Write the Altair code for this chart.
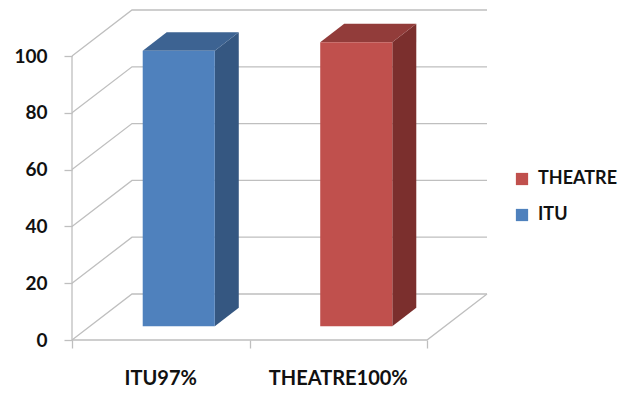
import altair as alt
import pandas as pd

# ---- data ----
categories = ["ITU", "THEATRE"]
values = [97, 100]
x_labels = ["ITU97%", "THEATRE100%"]
y_ticks = [0, 20, 40, 60, 80, 100]
legend_order = ["THEATRE", "ITU"]
front_colors = ["#4F81BD", "#C0504D"]
top_colors = ["#3D6392", "#923C3A"]
side_colors = ["#355781", "#7B2F2D"]

# ---- 3D geometry parameters (in data units) ----
DX = 0.338   # depth offset along x (category units)
DY = 16.2    # depth offset along y (value units)
D0, D1 = 0.3, 0.7   # bar depth range (fraction of floor depth)
BW = 0.406   # bar width (category units)
N = len(categories)
XMAX = N + DX
YMAX = max(y_ticks) + DY
FONT = "Lato"
FW = "bold"
GRID = "#BFBFBF"

def X(field, **kw):
    return alt.X(field, type="quantitative",
                 scale=alt.Scale(domain=[0, XMAX], nice=False, zero=False),
                 axis=alt.Axis(values=list(range(N + 1)), labels=False, domain=False,
                               grid=False, ticks=True, tickSize=8, tickColor=GRID,
                               tickWidth=1.3, title=None), **kw)

def Y(field, **kw):
    return alt.Y(field, type="quantitative",
                 scale=alt.Scale(domain=[0, YMAX], nice=False, zero=False),
                 axis=alt.Axis(values=y_ticks, domain=False, grid=False, tickSize=8,
                               tickColor=GRID, tickWidth=1.3, labelPadding=17,
                               labelFont=FONT, labelFontSize=19, labelFontWeight=FW,
                               labelColor="#111111", title=None), **kw)

# ---- wall / floor lines ----
lines = []
for t in y_ticks:
    pts = [(0, t), (DX, t + DY), (N + DX, t + DY)]
    for k, (x, y) in enumerate(pts):
        lines.append({"id": f"g{t}", "o": k, "x": x, "y": y})
for k, (x, y) in enumerate([(0, 0), (N, 0), (N + DX, DY)]):
    lines.append({"id": "floor", "o": k, "x": x, "y": y})
for k, (x, y) in enumerate([(0, 0), (0, max(y_ticks))]):
    lines.append({"id": "axis", "o": k, "x": x, "y": y})
lines_df = pd.DataFrame(lines)

line_layer = alt.Chart(lines_df).mark_line(color=GRID, strokeWidth=1.3).encode(
    x=X("x"), y=Y("y"), detail="id:N", order="o:Q")

# ---- bars ----
fronts, sides, tops = [], [], []
for i, (c, v) in enumerate(zip(categories, values)):
    left = i + D0 * DX + (1 - BW) / 2
    right = left + BW
    y0 = D0 * DY
    fronts.append({"series": c, "x": left, "x2": right, "y": y0, "y2": v + y0})
    ddx = (D1 - D0) * DX
    ddy = (D1 - D0) * DY
    sides.append({"face": f"s{i}", "col": side_colors[i], "x": right, "y": y0, "y2": v + y0})
    sides.append({"face": f"s{i}", "col": side_colors[i], "x": right + ddx, "y": y0 + ddy, "y2": v + y0 + ddy})
    tops.append({"face": f"t{i}", "col": top_colors[i], "y": v + y0, "x": left, "x2": right})
    tops.append({"face": f"t{i}", "col": top_colors[i], "y": v + y0 + ddy, "x": left + ddx, "x2": right + ddx})

side_layer = alt.Chart(pd.DataFrame(sides)).mark_area(opacity=1).encode(
    x=X("x"), y=Y("y"), y2="y2:Q",
    color=alt.Color("col:N", scale=None), detail="face:N")

top_layer = alt.Chart(pd.DataFrame(tops)).mark_area(orient="horizontal", opacity=1).encode(
    y=Y("y"), x=X("x"), x2="x2:Q",
    color=alt.Color("col:N", scale=None), detail="face:N")

front_layer = alt.Chart(pd.DataFrame(fronts)).mark_bar(opacity=1, strokeWidth=0).encode(
    x=X("x"), x2="x2:Q", y=Y("y"), y2="y2:Q",
    color=alt.Color("series:N",
                    scale=alt.Scale(domain=legend_order,
                                    range=[front_colors[categories.index(s)] for s in legend_order]),
                    sort=legend_order,
                    legend=alt.Legend(title=None, orient="none", legendX=441, legendY=160,
                                      symbolType="square", symbolSize=150,
                                      symbolStrokeWidth=0, labelFont=FONT, labelFontSize=18,
                                      labelFontWeight=FW, labelColor="#111111", labelOffset=7,
                                      rowPadding=18, padding=0)))

# ---- category labels ----
lab_df = pd.DataFrame({"label": x_labels, "xc": [i + 0.5 for i in range(N)]})
label_layer = alt.Chart(lab_df).mark_text(font=FONT, fontSize=20, fontWeight=FW, color="#111111",
                                          baseline="middle", align="center").encode(
    x=X("xc"), y=alt.value(369), text="label:N")

chart = alt.layer(line_layer, side_layer, top_layer, front_layer, label_layer).properties(
    width=415, height=330,
    autosize=alt.AutoSizeParams(type="none"),
    padding={"left": 72, "top": 10, "right": 137, "bottom": 54},
    background="white",
).configure_view(stroke=None)

chart.save("out.html", embed_options={"renderer": "svg", "actions": False})
